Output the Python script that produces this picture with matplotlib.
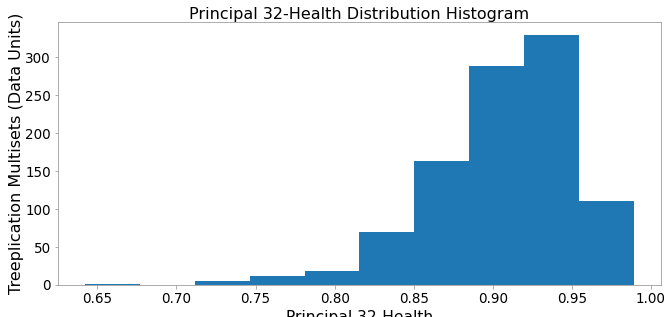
import numpy as np
import matplotlib
matplotlib.use('Agg')
import matplotlib.pyplot as plt

# bin edges and counts
bin_edges = [0.6424, 0.6771, 0.7117, 0.7464, 0.7811, 0.8157,
             0.8504, 0.8851, 0.9197, 0.9544, 0.9890]
counts = [1, 0, 5, 12, 19, 70, 164, 289, 330, 110]

centers = [(bin_edges[i] + bin_edges[i + 1]) / 2 for i in range(len(counts))]

fig = plt.figure(figsize=(664 / 72, 317 / 72), dpi=72)
ax = fig.add_axes([0.0873, 0.101, 0.9082, 0.8296])
ax.hist(centers, bins=bin_edges, weights=counts, color='#1f77b4')

ax.set_title('Principal 32-Health Distribution Histogram', fontsize=16, pad=0)
ax.set_xlabel('Principal 32-Health', fontsize=15.5)
ax.set_ylabel('Treeplication Multisets (Data Units)', fontsize=16, labelpad=1)
ax.tick_params(labelsize=13.5, colors='black')
ax.tick_params(color='#999999')
ax.set_xticks([0.65, 0.70, 0.75, 0.80, 0.85, 0.90, 0.95, 1.00])
for s in ax.spines.values():
    s.set_color('#999999')

fig.savefig('out.png', dpi=72)
